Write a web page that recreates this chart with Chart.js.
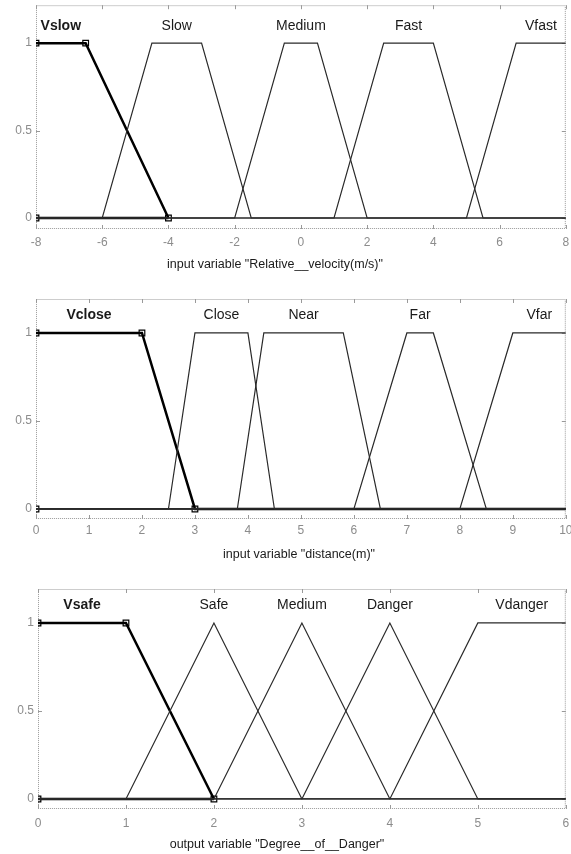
<!DOCTYPE html>
<html>
<head>
<meta charset="utf-8">
<script src="https://cdn.jsdelivr.net/npm/chart.js@4.4.1/dist/chart.umd.min.js"></script>
<style>
  html, body { margin: 0; padding: 0; background: #fff; }
  body { width: 571px; height: 854px; position: relative; overflow: hidden; }
  .panel { position: absolute; left: 0; width: 571px; }
</style>
</head>
<body>
<div class="panel" style="top:0;height:280px"><canvas id="velChart"></canvas></div>
<div class="panel" style="top:280px;height:290px"><canvas id="distChart"></canvas></div>
<div class="panel" style="top:570px;height:284px"><canvas id="dangerChart"></canvas></div>
<script>
// membership functions: names and trapezoid params [a, b, c, d]
const velNames = ['Vslow', 'Slow', 'Medium', 'Fast', 'Vfast'];
const velParams = [[-8, -8, -6.5, -4], [-6, -4.5, -3, -1.5], [-2, -0.5, 0.5, 2], [1, 2.5, 4, 5.5], [5, 6.5, 8, 8]];
const velTicks = [-8, -6, -4, -2, 0, 2, 4, 6, 8];

const distNames = ['Vclose', 'Close', 'Near', 'Far', 'Vfar'];
const distParams = [[0, 0, 2, 3], [2.5, 3, 4, 4.5], [3.8, 4.3, 5.8, 6.5], [6, 7, 7.5, 8.5], [8, 9, 10, 10]];
const distTicks = [0, 1, 2, 3, 4, 5, 6, 7, 8, 9, 10];

const dangerNames = ['Vsafe', 'Safe', 'Medium', 'Danger', 'Vdanger'];
const dangerParams = [[0, 0, 1, 2], [1, 2, 2, 3], [2, 3, 3, 4], [3, 4, 4, 5], [4, 5, 6, 6]];
const dangerTicks = [0, 1, 2, 3, 4, 5, 6];

const degreeTicks = [0, 0.5, 1];

const FONT = "'Liberation Sans', Arial, sans-serif";

// points of a trapezoid MF over the whole range
function mfCurve(p, lo, hi) {
  const pts = [];
  if (p[0] > lo) pts.push({ x: lo, y: 0 }, { x: p[0], y: 0 });
  pts.push({ x: p[1], y: 1 }, { x: p[2], y: 1 });
  if (p[3] < hi) pts.push({ x: p[3], y: 0 }, { x: hi, y: 0 });
  return pts;
}

// frame with small inward ticks, like the matlab axes box
const framePlugin = {
  id: 'frame',
  beforeDatasetsDraw(chart) {
    const { ctx, chartArea: a, scales } = chart;
    ctx.save();
    ctx.strokeStyle = '#9a9a9a';
    ctx.lineWidth = 1;
    ctx.setLineDash([1, 1]);
    ctx.strokeRect(a.left + 0.5, a.top + 0.5, a.right - a.left - 1, a.bottom - a.top - 1);
    ctx.setLineDash([]);
    ctx.beginPath();
    scales.x.ticks.forEach(t => {
      const x = Math.round(scales.x.getPixelForValue(t.value)) + 0.5;
      ctx.moveTo(x, a.bottom); ctx.lineTo(x, a.bottom - 4);
      ctx.moveTo(x, a.top); ctx.lineTo(x, a.top + 4);
    });
    scales.y.ticks.forEach(t => {
      const y = Math.round(scales.y.getPixelForValue(t.value)) + 0.5;
      ctx.moveTo(a.left, y); ctx.lineTo(a.left + 4, y);
      ctx.moveTo(a.right, y); ctx.lineTo(a.right - 4, y);
    });
    ctx.stroke();
    ctx.restore();
  }
};

// MF names above each plateau + axis caption
const labelPlugin = {
  id: 'mfLabels',
  afterDraw(chart, args, opts) {
    const { ctx, scales } = chart;
    ctx.save();
    ctx.fillStyle = '#1a1a1a';
    ctx.textAlign = 'center';
    ctx.textBaseline = 'middle';
    opts.names.forEach((name, i) => {
      const p = opts.params[i];
      const x = scales.x.getPixelForValue((p[1] + p[2]) / 2);
      const y = scales.y.getPixelForValue(opts.level);
      ctx.font = (i === 0 ? 'bold ' : '') + '14px ' + FONT;
      ctx.fillText(name, x, y);
    });
    ctx.font = '12.5px ' + FONT;
    ctx.fillText(opts.caption, opts.captionX, opts.captionY);
    ctx.restore();
  }
};

function buildChart(id, cfg) {
  const lo = cfg.ticks[0];
  const hi = cfg.ticks[cfg.ticks.length - 1];
  const datasets = [];

  // unselected MFs, thin lines
  cfg.params.forEach((p, i) => {
    if (i === 0) return;
    datasets.push({
      data: mfCurve(p, lo, hi),
      showLine: true,
      borderColor: '#2a2a2a',
      borderWidth: 1.2,
      pointRadius: 0
    });
  });

  // selected (first) MF, bold with square handles
  const sel = cfg.params[0];
  datasets.push({
    data: [{ x: lo, y: 0 }, { x: sel[3], y: 0 }],
    showLine: true,
    borderColor: cfg.tailBold ? '#555' : '#000',
    borderWidth: cfg.tailBold ? 1.5 : 2.5,
    pointRadius: 0
  });
  const selPts = [{ x: sel[1], y: 1 }, { x: sel[2], y: 1 }, { x: sel[3], y: 0 }];
  if (cfg.tailBold) selPts.push({ x: hi, y: 0 });
  datasets.push({
    data: selPts,
    showLine: true,
    borderColor: '#000',
    borderWidth: 2.5,
    pointRadius: 0
  });
  datasets.push({
    data: [{ x: lo, y: 0 }, { x: sel[1], y: 1 }, { x: sel[2], y: 1 }, { x: sel[3], y: 0 }],
    showLine: false,
    pointStyle: 'rect',
    pointRadius: 4,
    pointBackgroundColor: '#fff',
    pointBorderColor: '#000',
    pointBorderWidth: 1.2
  });

  new Chart(document.getElementById(id), {
    type: 'scatter',
    data: { datasets: datasets },
    options: {
      responsive: true,
      maintainAspectRatio: false,
      animation: false,
      layout: { padding: { top: cfg.padTop, right: cfg.padRight, left: 0, bottom: 0 } },
      plugins: {
        legend: { display: false },
        tooltip: { enabled: false },
        mfLabels: {
          names: cfg.names,
          params: cfg.params,
          level: 1.1,
          caption: cfg.caption,
          captionX: cfg.captionX,
          captionY: cfg.captionY
        }
      },
      scales: {
        x: {
          type: 'linear',
          min: lo,
          max: hi,
          grid: { display: false, drawTicks: false },
          border: { display: false },
          afterBuildTicks: s => { s.ticks = cfg.ticks.map(v => ({ value: v })); },
          afterFit: s => {
            s.height = cfg.xAxisH;
            s.paddingLeft = 0;
            s.paddingRight = 0;
          },
          ticks: {
            color: '#8c8c8c',
            font: { size: 12, family: FONT },
            padding: cfg.tickPad,
            maxRotation: 0,
            autoSkip: false,
            callback: v => String(v)
          }
        },
        y: {
          type: 'linear',
          min: cfg.yMin,
          max: cfg.yMax,
          grid: { display: false, drawTicks: false },
          border: { display: false },
          afterBuildTicks: s => { s.ticks = degreeTicks.map(v => ({ value: v })); },
          afterFit: s => {
            s.width = cfg.yAxisW;
            s.paddingTop = 0;
            s.paddingBottom = 0;
          },
          ticks: {
            color: '#8c8c8c',
            font: { size: 12, family: FONT },
            padding: 4,
            callback: v => String(v)
          }
        }
      }
    },
    plugins: [framePlugin, labelPlugin]
  });
}

buildChart('velChart', {
  names: velNames, params: velParams, ticks: velTicks,
  caption: 'input variable "Relative__velocity(m/s)"', captionX: 275, captionY: 265,
  padTop: 5, padRight: 3, xAxisH: 51, yAxisW: 36, tickPad: 6,
  yMin: -0.063, yMax: 1.217, tailBold: false
});

buildChart('distChart', {
  names: distNames, params: distParams, ticks: distTicks,
  caption: 'input variable "distance(m)"', captionX: 299, captionY: 275,
  padTop: 19, padRight: 5, xAxisH: 51, yAxisW: 36, tickPad: 4,
  yMin: -0.057, yMax: 1.193, tailBold: true
});

buildChart('dangerChart', {
  names: dangerNames, params: dangerParams, ticks: dangerTicks,
  caption: 'output variable "Degree__of__Danger"', captionX: 277, captionY: 275,
  padTop: 19, padRight: 3, xAxisH: 45, yAxisW: 38, tickPad: 7,
  yMin: -0.057, yMax: 1.193, tailBold: false
});
</script>
</body>
</html>
